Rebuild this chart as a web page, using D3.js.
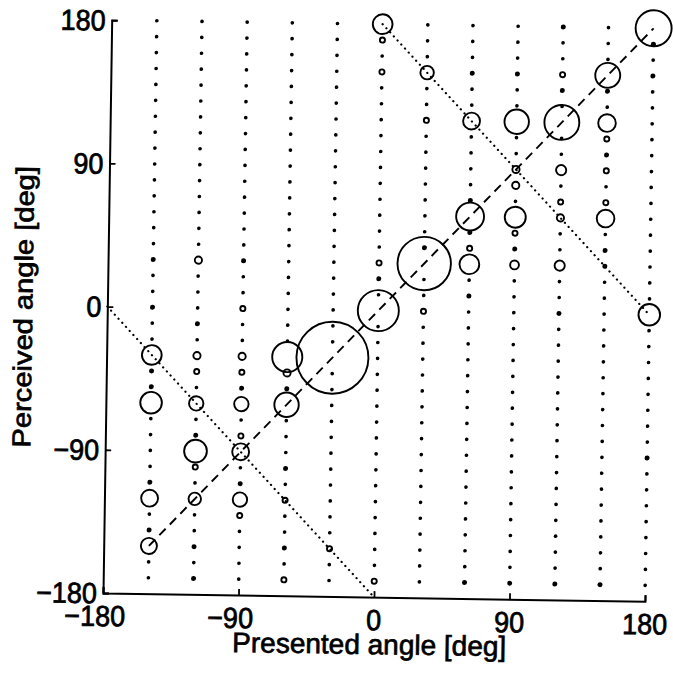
<!DOCTYPE html>
<meta charset="utf-8">
<style>
    body { margin: 0; background: #fff; }
    text { font-family: "Liberation Sans", Arial, sans-serif; fill: #000; stroke: #000; stroke-width: 0.7px; }
</style>
<body>
<script src="https://cdn.jsdelivr.net/npm/d3@7/dist/d3.min.js"></script>
<script>
    // presented angles (columns) and perceived-angle bins (rows)
    const presented = [-150, -120, -90, -60, -30, 0, 30, 60, 90, 120, 150, 180];
    const perceived = [180, 170, 160, 150, 140, 130, 120, 110, 100, 90, 80, 70, 60, 50, 40, 30, 20, 10, 0,
        -10, -20, -30, -40, -50, -60, -70, -80, -90, -100, -110, -120, -130, -140, -150, -160, -170];
    const ticks = [-180, -90, 0, 90, 180];

    // [presented, perceived, count]
    const counts = [
        [-150, -30, 15], [-150, -60, 18], [-150, -120, 11], [-150, -150, 10],
        [-120, 30, 2], [-120, -30, 2], [-120, -40, 1], [-120, -60, 8], [-120, -90, 20], [-120, -100, 1], [-120, -120, 6],
        [-90, 0, 1], [-90, -30, 2], [-90, -40, 1], [-90, -60, 8], [-90, -80, 1], [-90, -90, 11], [-90, -120, 8], [-90, -130, 1],
        [-60, -30, 35], [-60, -40, 2], [-60, -60, 23], [-60, -120, 1], [-60, -170, 1],
        [-30, -30, 200], [-30, -150, 1],
        [0, 180, 15], [0, 170, 1], [0, 150, 1], [0, 30, 1], [0, 0, 65], [0, -170, 1],
        [30, 150, 7], [30, 120, 1], [30, 30, 110], [30, 0, 1],
        [60, 120, 11], [60, 60, 30], [60, 40, 1], [60, 30, 15],
        [90, 120, 23], [90, 90, 2], [90, 80, 2], [90, 60, 17], [90, 50, 1], [90, 30, 3],
        [120, 150, 1], [120, 120, 47], [120, 90, 4], [120, 70, 1], [120, 60, 2], [120, 30, 4],
        [150, 150, 24], [150, 120, 12], [150, 110, 1], [150, 90, 1], [150, 70, 1], [150, 60, 12],
        [180, 180, 50], [180, 0, 18]
    ];

    // cells printed as a heavier dot
    const heavy = [
        [-150, 30], [-150, 0], [-150, -40], [-150, -50], [-150, -110], [-150, -140],
        [-120, -10], [-120, -80], [-120, -150], [-120, -170],
        [-90, 30], [-90, -50], [-90, -110],
        [-60, -50], [-60, -100], [-60, -150],
        [0, 20], [30, 40],
        [60, 150], [60, 70], [60, 50], [60, 10], [60, -170],
        [90, 150], [90, 40], [90, -170],
        [120, 180], [120, 140], [120, 0], [120, -170],
        [150, 140], [150, 100], [150, 40], [150, 30], [150, -170],
        [180, 170], [180, 150], [180, -90]
    ];

    const identityLine = [[-150, -150], [180, 180]];
    const wrapLines = [[[-180, 0], [0, -180]], [[0, 180], [180, 0]]];

    const width = 673, height = 674;
    const x = d3.scaleLinear().domain([-180, 180]).range([103, 645]);
    const y = d3.scaleLinear().domain([-180, 180]).range([593, 20]);
    const r = d3.scaleSqrt().domain([0, 200]).range([0, 36]);

    const svg = d3.select("body").append("svg")
        .attr("width", width)
        .attr("height", height);

    // the scanned figure is slightly tilted
    const g = svg.append("g").attr("transform", "rotate(0.87,103,593)");

    const line = d3.line().x(d => x(d[0])).y(d => y(d[1]));

    // grid of dots (empty bins), skipping bins drawn as circles
    const taken = new Set(counts.map(d => d[0] + "," + d[1]).concat(heavy.map(d => d[0] + "," + d[1])));
    const cells = [];
    presented.forEach(p => perceived.forEach(q => {
        if (!taken.has(p + "," + q)) cells.push([p, q]);
    }));
    g.append("g").selectAll("circle")
        .data(cells)
        .enter().append("circle")
        .attr("cx", d => x(d[0]))
        .attr("cy", d => y(d[1]))
        .attr("r", 1.85);

    g.append("g").selectAll("circle")
        .data(heavy)
        .enter().append("circle")
        .attr("cx", d => x(d[0]))
        .attr("cy", d => y(d[1]))
        .attr("r", 2.5);

    // reference lines
    g.append("path")
        .datum(identityLine)
        .attr("d", line)
        .attr("fill", "none")
        .attr("stroke", "#000")
        .attr("stroke-width", 1.9)
        .attr("stroke-dasharray", "9,6");

    g.append("g").selectAll("path")
        .data(wrapLines)
        .enter().append("path")
        .attr("d", line)
        .attr("fill", "none")
        .attr("stroke", "#000")
        .attr("stroke-width", 2.2)
        .attr("stroke-linecap", "round")
        .attr("stroke-dasharray", "0.1,5.4");

    // response circles
    g.append("g").selectAll("circle")
        .data(counts)
        .enter().append("circle")
        .attr("cx", d => x(d[0]))
        .attr("cy", d => y(d[1]))
        .attr("r", d => r(d[2]))
        .attr("fill", "none")
        .attr("stroke", "#000")
        .attr("stroke-width", 1.9);

    // axes
    const xAxis = g.append("g")
        .attr("transform", "translate(0," + y(-180) + ")")
        .call(d3.axisBottom(x).tickValues(ticks).tickSize(-6).tickFormat(""));
    const yAxis = g.append("g")
        .attr("transform", "translate(" + x(-180) + ",0)")
        .call(d3.axisLeft(y).tickValues(ticks).tickSize(-6).tickFormat(""));
    [xAxis, yAxis].forEach(a => {
        a.select(".domain").attr("stroke-width", 2);
        a.selectAll(".tick line").attr("stroke-width", 1.8);
    });

    const fmt = v => (v < 0 ? "\u2212" : "") + Math.abs(v);

    g.append("g").selectAll("text")
        .data(ticks)
        .enter().append("text")
        .attr("transform", d => "translate(" + x(d) + "," + (y(-180) + 33) + ") scale(1,1.08)")
        .attr("text-anchor", "middle")
        .attr("dx", d => d < 0 ? -8 : 0)
        .style("font-size", "27px")
        .text(fmt);

    g.append("g").selectAll("text")
        .data(ticks)
        .enter().append("text")
        .attr("transform", d => "translate(" + (x(-180) - 6) + "," + (y(d) + 10.4) + ") scale(1,1.08)")
        .attr("text-anchor", "end")
        .style("font-size", "27px")
        .text(fmt);

    g.append("text")
        .attr("x", 370)
        .attr("y", 650)
        .attr("text-anchor", "middle")
        .style("font-size", "28px")
        .text("Presented angle [deg]");

    g.append("text")
        .attr("transform", "translate(28,308) rotate(-90) scale(1.12,1)")
        .attr("text-anchor", "middle")
        .style("font-size", "26px")
        .text("Perceived angle [deg]");
</script>
</body>
</html>
